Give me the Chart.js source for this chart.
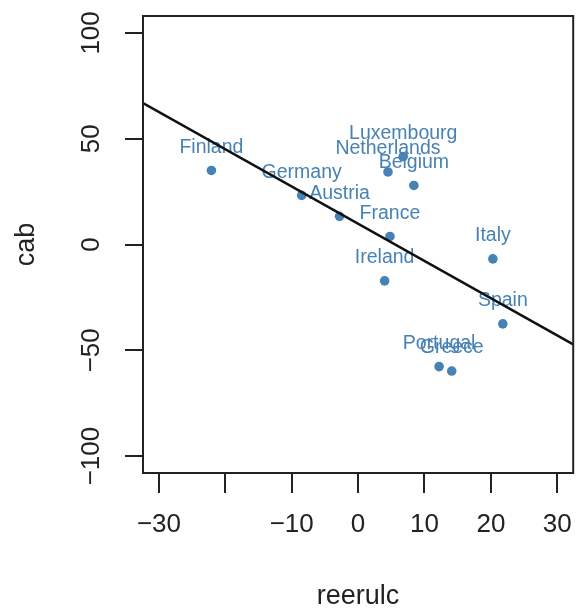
<!DOCTYPE html>
<html>
<head>
<meta charset="utf-8">
<script src="https://cdn.jsdelivr.net/npm/chart.js@4"></script>
<style>
  html, body { margin: 0; padding: 0; background: #ffffff; }
  canvas { display: block; }
</style>
</head>
<body>
<canvas id="chart" width="578" height="612"></canvas>
<script>
// Current account balance vs. real effective exchange rate (ULC based)
const countries = ['Finland', 'Germany', 'Austria', 'France', 'Ireland', 'Italy',
                   'Spain', 'Portugal', 'Greece', 'Netherlands', 'Luxembourg', 'Belgium'];
const reerulc = [-22.1, -8.5, -2.8, 4.8, 4.0, 20.3, 21.8, 12.2, 14.1, 4.5, 6.8, 8.4];
const cab     = [35.0, 23.2, 13.3, 3.8, -17.2, -6.8, -37.5, -57.7, -59.8, 34.3, 41.6, 27.9];

// least-squares fit line: cab = intercept + slope * reerulc
const fitIntercept = 9.8;
const fitSlope = -1.76;

const xLimits = [-32.4, 32.4];
const yLimits = [-108, 108];
const xTicks = [-30, -20, -10, 0, 10, 20, 30];
const xTickLabels = ['\u221230', '', '\u221210', '0', '10', '20', '30'];
const yTicks = [-100, -50, 0, 50, 100];
const yTickLabels = ['\u2212100', '\u221250', '0', '50', '100'];

const FONT = '"Liberation Sans", Arial, Helvetica, sans-serif';
const INK = '#222222';
const POINT_COLOR = '#4682B4';

const points = reerulc.map((x, i) => ({ x: x, y: cab[i] }));
const fitLine = xLimits.map(x => ({ x: x, y: fitIntercept + fitSlope * x }));

const decorations = {
  id: 'decorations',
  afterDatasetDraw(chart, args) {
    if (args.index !== 1) return;
    const ctx = chart.ctx;
    const meta = chart.getDatasetMeta(1);
    ctx.save();
    ctx.fillStyle = POINT_COLOR;
    ctx.font = '19.5px ' + FONT;
    ctx.textAlign = 'center';
    ctx.textBaseline = 'middle';
    meta.data.forEach((el, i) => {
      ctx.fillText(countries[i], el.x, el.y - 23);
    });
    ctx.restore();
  },
  afterDraw(chart) {
    const ctx = chart.ctx;
    const a = chart.chartArea;
    const xs = chart.scales.x;
    const ys = chart.scales.y;
    ctx.save();
    // plot box
    ctx.strokeStyle = INK;
    ctx.lineWidth = 2;
    ctx.strokeRect(a.left, a.top, a.right - a.left, a.bottom - a.top);

    ctx.fillStyle = INK;
    ctx.font = '26px ' + FONT;
    ctx.textAlign = 'center';
    ctx.textBaseline = 'middle';
    // x tick labels
    xTicks.forEach((v, i) => {
      if (xTickLabels[i]) ctx.fillText(xTickLabels[i], xs.getPixelForValue(v), 525);
    });
    // y tick labels, rotated
    yTicks.forEach((v, i) => {
      ctx.save();
      ctx.translate(92, ys.getPixelForValue(v));
      ctx.rotate(-Math.PI / 2);
      ctx.fillText(yTickLabels[i], 0, 0);
      ctx.restore();
    });
    // axis titles
    ctx.font = '27px ' + FONT;
    ctx.fillText('reerulc', (a.left + a.right) / 2, 597);
    ctx.save();
    ctx.translate(27, (a.top + a.bottom) / 2);
    ctx.rotate(-Math.PI / 2);
    ctx.fillText('cab', 0, 0);
    ctx.restore();
    ctx.restore();
  }
};

new Chart(document.getElementById('chart'), {
  type: 'scatter',
  data: {
    datasets: [
      {
        type: 'line',
        data: fitLine,
        borderColor: '#111111',
        borderWidth: 2.5,
        pointRadius: 0,
        fill: false,
        tension: 0
      },
      {
        type: 'scatter',
        data: points,
        backgroundColor: POINT_COLOR,
        borderWidth: 0,
        pointRadius: 4.8,
        pointHoverRadius: 4.8
      }
    ]
  },
  options: {
    responsive: false,
    animation: false,
    events: [],
    layout: { padding: { top: 16, right: 3, left: 0, bottom: 0 } },
    plugins: {
      legend: { display: false },
      tooltip: { enabled: false }
    },
    scales: {
      x: {
        type: 'linear',
        min: xLimits[0],
        max: xLimits[1],
        afterBuildTicks: s => { s.ticks = xTicks.map(v => ({ value: v })); },
        afterFit: s => { s.height = 139; },
        ticks: { display: false },
        border: { display: false },
        grid: {
          drawOnChartArea: false,
          drawTicks: true,
          tickLength: 20,
          tickColor: INK,
          tickWidth: 2,
          color: INK,
          lineWidth: 2
        }
      },
      y: {
        type: 'linear',
        min: yLimits[0],
        max: yLimits[1],
        afterBuildTicks: s => { s.ticks = yTicks.map(v => ({ value: v })); },
        afterFit: s => { s.width = 143; },
        ticks: { display: false },
        border: { display: false },
        grid: {
          drawOnChartArea: false,
          drawTicks: true,
          tickLength: 18,
          tickColor: INK,
          tickWidth: 2,
          color: INK,
          lineWidth: 2
        }
      }
    }
  },
  plugins: [decorations]
});
</script>
</body>
</html>
